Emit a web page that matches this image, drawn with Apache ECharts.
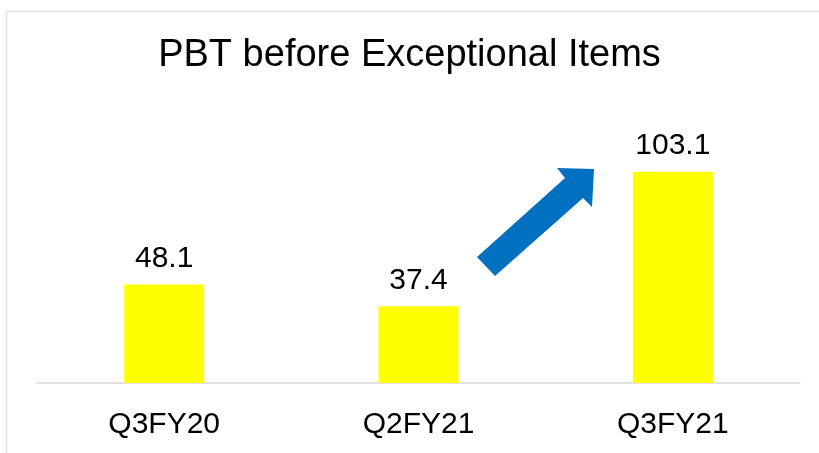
<!DOCTYPE html>
<html>
<head>
<meta charset="utf-8">
<script src="https://cdn.jsdelivr.net/npm/echarts@6/dist/echarts.min.js"></script>
<style>
html, body { margin: 0; padding: 0; background: #fff; }
#container { width: 819px; height: 453px; }
</style>
</head>
<body>
<div id="container"></div>
<script>
var categories = ['Q3FY20', 'Q2FY21', 'Q3FY21'];
var pbtValues = [48.1, 37.4, 103.1];

var dom = document.getElementById("container");
var myChart = echarts.init(dom);
var font = 'Liberation Sans, Arial, sans-serif';

var option = {
    backgroundColor: '#fff',
    title: {
        text: 'PBT before Exceptional Items',
        left: 'center',
        top: 32,
        textStyle: { fontFamily: font, fontSize: 38, fontWeight: 'normal', color: '#000' }
    },
    grid: { left: 37, right: 19, top: 137, bottom: 70 },
    xAxis: {
        type: 'category',
        data: categories,
        axisLine: { lineStyle: { color: '#d9d9d9', width: 1.5 } },
        axisTick: { show: false },
        axisLabel: { fontFamily: font, fontSize: 30, color: '#000', margin: 27 }
    },
    yAxis: {
        type: 'value',
        min: 0,
        max: 120,
        show: false,
        splitLine: { show: false }
    },
    graphic: [
        {
            type: 'rect',
            shape: { x: 6.5, y: 11.5, width: 830, height: 460 },
            style: { fill: 'none', stroke: '#e3e3e3', lineWidth: 1.5 },
            silent: true
        },
        {
            type: 'polygon',
            shape: {
                points: [[477, 257], [565, 178], [557, 168], [594, 169], [592, 207], [583, 198], [495, 276]]
            },
            style: { fill: '#0070C0' },
            silent: true
        }
    ],
    series: [
        {
            name: 'PBT',
            type: 'bar',
            data: pbtValues,
            barWidth: 80,
            itemStyle: { color: '#FFFF00' },
            label: {
                show: true,
                position: 'top',
                distance: 11,
                fontFamily: font,
                fontSize: 30,
                color: '#000'
            }
        }
    ]
};
myChart.setOption(option, true);
</script>
</body>
</html>
